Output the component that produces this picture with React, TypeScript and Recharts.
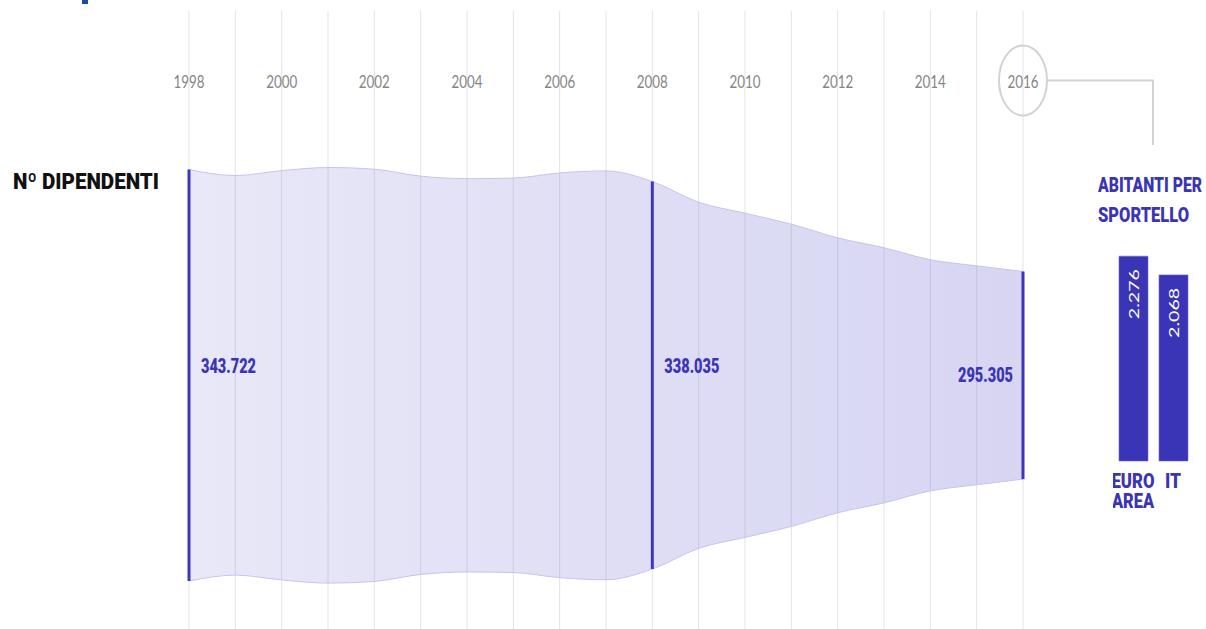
import React from 'react';
import {
  ComposedChart,
  Area,
  XAxis,
  YAxis,
  CartesianGrid,
  ReferenceLine,
  ReferenceDot,
  BarChart,
  Bar,
  LabelList,
} from 'recharts';

// ---------- data ----------
const years = [
  1998, 1999, 2000, 2001, 2002, 2003, 2004, 2005, 2006, 2007,
  2008, 2009, 2010, 2011, 2012, 2013, 2014, 2015, 2016,
];
// employees (thousands)
const dipendenti = [
  343.722, 340.9, 343.2, 344.7, 343.9, 340.6, 339.4, 339.7, 342.1, 343.1,
  338.035, 328.2, 323.0, 317.8, 311.3, 306.6, 300.9, 298.0, 295.305,
];
const markerYears = [1998, 2008, 2016];
const markerLabels = ['343.722', '338.035', '295.305'];
const labeledYears = [1998, 2000, 2002, 2004, 2006, 2008, 2010, 2012, 2014, 2016];

const barCategories = ['EURO AREA', 'IT'];
const abitantiPerSportello = [2.276, 2.068];
const abitantiLabels = ['2.276', '2.068'];

// ---------- derived tables ----------
const BAND_BASE = 246.0; // baseline of the stylised stream band
const bandData = years.map((year, i) => {
  const h = (dipendenti[i] - BAND_BASE) / 2;
  return { year, band: [-h, h], half: h };
});
const halfOf = (yr: number) => bandData.find((d) => d.year === yr)!.half;

const barData = barCategories.map((cat, i) => ({
  cat,
  value: abitantiPerSportello[i],
  label: abitantiLabels[i],
}));

// ---------- styles ----------
const BLUE = '#3b35b3';
const BAR_BLUE = '#3a35b6';
const BOLD_FONT = 'Roboto, Lato, "Noto Sans", sans-serif';
const LIGHT_FONT = 'Lato, "Open Sans", "Noto Sans", sans-serif';
const BOLD_WEIGHT = 900;

const YearTick = (props: any) => {
  const { x, y, payload } = props;
  const yr = payload.value;
  if (!labeledYears.includes(yr)) return <g />;
  const base = y + 85;
  return (
    <g>
      <text
        x={x}
        y={base}
        textAnchor="middle"
        fontFamily={LIGHT_FONT}
        fontWeight={400}
        fontSize={18}
        fill="#858585"
        textLength={31}
        lengthAdjust="spacingAndGlyphs"
      >
        {yr}
      </text>
      {yr === 2016 && (
        <g>
          <ellipse cx={x} cy={base - 7.5} rx={24} ry={35} fill="none" stroke="#d2d2d2" strokeWidth={2} />
          <polyline
            points={`${x + 24},${base - 7.5} ${x + 130},${base - 7.5} ${x + 130},${base + 57}`}
            fill="none"
            stroke="#d2d2d2"
            strokeWidth={2}
          />
        </g>
      )}
    </g>
  );
};

const MarkerLabel = (props: any) => {
  const { viewBox, text, side } = props;
  if (!viewBox) return null;
  const cx = viewBox.x + (viewBox.width || 0) / 2;
  const cy = viewBox.y + (viewBox.height || 0) / 2;
  const isRight = side === 'right';
  return (
    <text
      x={isRight ? cx + 12 : cx - 10}
      y={isRight ? cy - 2 : cy + 7}
      textAnchor={isRight ? 'start' : 'end'}
      fontFamily={BOLD_FONT}
      fontWeight={BOLD_WEIGHT}
      fontSize={20}
      fill={BLUE}
      textLength={55}
      lengthAdjust="spacingAndGlyphs"
    >
      {text}
    </text>
  );
};

const CatTick = (props: any) => {
  const { x, y, payload } = props;
  const words = String(payload.value).split(' ');
  const widths: Record<string, number> = { EURO: 43, AREA: 42, IT: 16 };
  return (
    <g>
      {words.map((w, i) => (
        <text
          key={w}
          x={x}
          y={y + 19 + i * 20}
          textAnchor="middle"
          fontFamily={BOLD_FONT}
          fontWeight={BOLD_WEIGHT}
          fontSize={20}
          fill={BLUE}
          textLength={widths[w] || undefined}
          lengthAdjust="spacingAndGlyphs"
        >
          {w}
        </text>
      ))}
    </g>
  );
};

const BarValueLabel = (props: any) => {
  const { x, y, width, value } = props;
  const cx = x + width / 2;
  const ty = y + 13;
  return (
    <text
      x={cx}
      y={ty}
      transform={`rotate(-90 ${cx} ${ty})`}
      textAnchor="end"
      dominantBaseline="central"
      fontFamily={LIGHT_FONT}
      fontWeight={400}
      fontSize={14}
      fill="#ffffff"
      textLength={50}
      lengthAdjust="spacingAndGlyphs"
    >
      {value}
    </text>
  );
};

export default function App() {
  return (
    <div
      style={{
        position: 'absolute',
        left: 0,
        top: 0,
        width: 1206,
        height: 629,
        overflow: 'hidden',
        background: '#ffffff',
      }}
    >
      <div style={{ position: 'absolute', left: 0, top: 0 }}>
        <ComposedChart
          width={1206}
          height={629}
          data={bandData}
          margin={{ top: 10, right: 183, bottom: 0, left: 189 }}
        >
          <defs>
            <linearGradient id="bandGrad" x1="0" y1="0" x2="1" y2="0">
              <stop offset="0%" stopColor="#7d78d6" stopOpacity={0.17} />
              <stop offset="100%" stopColor="#7d78d6" stopOpacity={0.31} />
            </linearGradient>
          </defs>
          <CartesianGrid horizontal={false} vertical stroke="#e3e3e6" strokeWidth={1} />
          <XAxis
            dataKey="year"
            type="number"
            domain={[1998, 2016]}
            ticks={years}
            interval={0}
            orientation="top"
            height={1}
            axisLine={false}
            tickLine={false}
            tick={<YearTick />}
          />
          <YAxis hide type="number" domain={[-60.25, 86.52]} allowDataOverflow />
          <Area
            dataKey="band"
            type="monotone"
            stroke="#c6c4ee"
            strokeWidth={1}
            fill="url(#bandGrad)"
            fillOpacity={1}
            dot={false}
            activeDot={false}
            isAnimationActive={false}
          />
          {markerYears.map((yr) => (
            <ReferenceLine
              key={`m${yr}`}
              segment={[
                { x: yr, y: -halfOf(yr) },
                { x: yr, y: halfOf(yr) },
              ]}
              stroke="#3d37bb"
              strokeWidth={3}
            />
          ))}
          {markerYears.map((yr, i) => (
            <ReferenceDot
              key={`l${yr}`}
              x={yr}
              y={0}
              r={1}
              fill="none"
              stroke="none"
              label={(p: any) => (
                <MarkerLabel {...p} text={markerLabels[i]} side={i === markerYears.length - 1 ? 'left' : 'right'} />
              )}
            />
          ))}
        </ComposedChart>
      </div>

      <div style={{ position: 'absolute', left: 1113, top: 236 }}>
        <BarChart
          width={80}
          height={290}
          data={barData}
          margin={{ top: 0, right: 0, bottom: 0, left: 0 }}
        >
          <XAxis
            dataKey="cat"
            height={65}
            axisLine={false}
            tickLine={false}
            interval={0}
            tick={<CatTick />}
          />
          <YAxis hide domain={[0, 2.5]} />
          <Bar dataKey="value" fill={BAR_BLUE} stroke="#6e69d0" strokeWidth={0.6} barSize={29} isAnimationActive={false}>
            <LabelList dataKey="label" content={<BarValueLabel />} />
          </Bar>
        </BarChart>
      </div>

      <svg
        width={1206}
        height={629}
        style={{ position: 'absolute', left: 0, top: 0, pointerEvents: 'none' }}
      >
        <rect x={82} y={0} width={6} height={4} fill="#1d4a9a" />
        <text
          x={13}
          y={189}
          fontFamily={BOLD_FONT}
          fontWeight={BOLD_WEIGHT}
          fontSize={22}
          fill="#111111"
          textLength={146}
          lengthAdjust="spacingAndGlyphs"
        >
          Nº DIPENDENTI
        </text>
        <text
          x={1098}
          y={192}
          fontFamily={BOLD_FONT}
          fontWeight={BOLD_WEIGHT}
          fontSize={21}
          fill={BLUE}
          textLength={104}
          lengthAdjust="spacingAndGlyphs"
        >
          ABITANTI PER
        </text>
        <text
          x={1098}
          y={222}
          fontFamily={BOLD_FONT}
          fontWeight={BOLD_WEIGHT}
          fontSize={21}
          fill={BLUE}
          textLength={91}
          lengthAdjust="spacingAndGlyphs"
        >
          SPORTELLO
        </text>
      </svg>
    </div>
  );
}
